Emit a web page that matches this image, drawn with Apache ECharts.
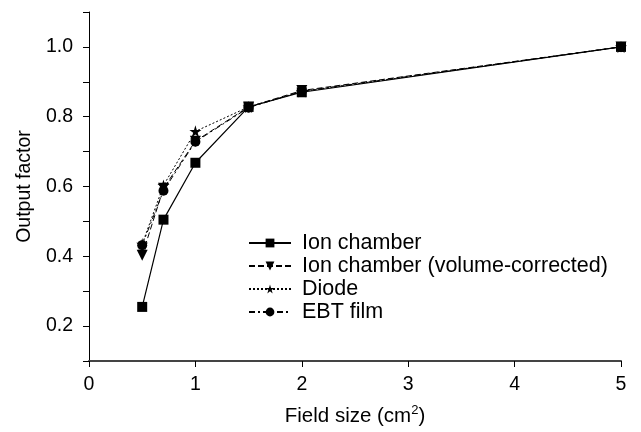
<!DOCTYPE html>
<html><head><meta charset="utf-8">
<script src="https://cdn.jsdelivr.net/npm/echarts@6/dist/echarts.min.js"></script>
<style>html,body{margin:0;padding:0;background:#fff}#c{width:641px;height:432px}</style>
</head><body><div id="c"></div>
<script>
const fieldSizes = [0.5, 0.7, 1.0, 1.5, 2.0, 5.0];
const ionChamber = [0.255, 0.505, 0.668, 0.828, 0.870, 1.0];
const ionCorrected = [0.403, 0.595, 0.730, 0.828, 0.875, 1.0];
const diode = [0.435, 0.603, 0.758, 0.828, 0.872, 1.0];
const ebtFilm = [0.432, 0.588, 0.728, 0.826, 0.873, 1.0];
const seriesNames = ['Ion chamber', 'Ion chamber (volume-corrected)', 'Diode', 'EBT film'];

const pair = arr => fieldSizes.map((x, i) => [x, arr[i]]);
const star = 'path://M50,0 L61,35 L98,35 L68,57 L79,91 L50,70 L21,91 L32,57 L2,35 L39,35 Z';
const font = 'Liberation Sans, Arial, sans-serif';
const fs = 19.5;

const chart = echarts.init(document.getElementById('c'), null, {renderer: 'canvas'});
chart.setOption({
  animation: false,
  grid: {left: 89, right: 20, top: 12, bottom: 69},
  legend: {
    orient: 'vertical', left: 243, top: 227,
    itemWidth: 42, itemHeight: 11, itemGap: 1,
    textStyle: {fontFamily: font, fontSize: 21.5, lineHeight: 22, color: '#000', padding: [0, 0, 0, 6]},
    data: seriesNames
  },
  xAxis: {
    type: 'value', min: 0, max: 5, interval: 1,
    name: 'Field size (cm{sup|2})', nameLocation: 'middle', nameGap: 43,
    nameTextStyle: {fontFamily: font, fontSize: 20.5, color: '#000',
      rich: {sup: {fontFamily: font, fontSize: 13, color: '#000', padding: [0, 0, 12, 0]}}},
    axisLine: {show: true, lineStyle: {color: '#444', width: 2}},
    axisTick: {show: true, inside: false, length: 6, lineStyle: {color: '#000'}},
    axisLabel: {fontFamily: font, fontSize: fs, color: '#000', margin: 14},
    splitLine: {show: false}
  },
  yAxis: {
    type: 'value', min: 0.1, max: 1.1, interval: 0.1,
    name: 'Output factor', nameLocation: 'middle', nameGap: 52,
    nameTextStyle: {fontFamily: font, fontSize: fs, color: '#000'},
    axisLine: {show: true, lineStyle: {color: '#000', width: 1}},
    axisTick: {show: true, inside: false, length: 6, lineStyle: {color: '#000'}},
    axisLabel: {fontFamily: font, fontSize: fs, color: '#000', margin: 16,
      formatter: v => { const k = Math.round(v * 10); return (k % 2 === 0 && k >= 2 && k <= 10) ? (k / 10).toFixed(1) : ''; }},
    splitLine: {show: false}
  },
  series: [
    {name: seriesNames[1], type: 'line', data: pair(ionCorrected), symbol: 'triangle', symbolRotate: 180, symbolSize: 11,
     itemStyle: {color: '#000'}, lineStyle: {color: '#000', width: 1, type: [6, 3]}, z: 2},
    {name: seriesNames[2], type: 'line', data: pair(diode), symbol: star, symbolSize: 12,
     itemStyle: {color: '#000'}, lineStyle: {color: '#000', width: 1, type: [2, 2]}, z: 3},
    {name: seriesNames[3], type: 'line', data: pair(ebtFilm), symbol: 'circle', symbolSize: 10,
     itemStyle: {color: '#000'}, lineStyle: {color: '#000', width: 1, type: [6, 3, 2, 3]}, z: 4},
    {name: seriesNames[0], type: 'line', data: pair(ionChamber), symbol: 'rect', symbolSize: 10,
     itemStyle: {color: '#000'}, lineStyle: {color: '#000', width: 1.2, type: 'solid'}, z: 5}
  ]
});
</script></body></html>
